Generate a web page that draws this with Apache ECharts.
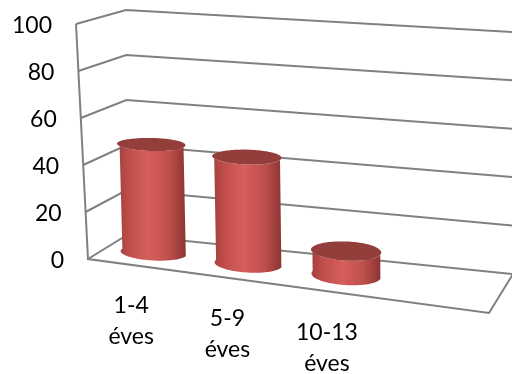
<!DOCTYPE html>
<html>
<head>
<meta charset="UTF-8">
<title>3D cylinders</title>
<script src="https://cdn.jsdelivr.net/npm/echarts@6/dist/echarts.min.js"></script>
<style>
  html, body { margin: 0; padding: 0; background: #fff; }
  #main { width: 512px; height: 374px; }
</style>
</head>
<body>
<div id="main"></div>
<script>
// data
var categories = ['1-4 éves', '5-9 éves', '10-13 éves', ''];
var values = [46.5, 45, 10, null];
var yTicks = [0, 20, 40, 60, 80, 100];

// box layout: floor quad corners and full-height vectors (front/back, left/right)
var FLOOR = [[88, 259], [489, 313], [513, 274], [127, 235]];
var HF0 = [-12, -235], HF1 = [2, -255], HB1 = [0, -242], HB0 = [-1, -225];
var PERSP = 0.2; // share of perspective (homography) vs plain bilinear floor

// homography unit square -> floor quad
var H = (function (p) {
  var dx1 = p[1][0] - p[2][0], dx2 = p[3][0] - p[2][0], dx3 = p[0][0] - p[1][0] + p[2][0] - p[3][0];
  var dy1 = p[1][1] - p[2][1], dy2 = p[3][1] - p[2][1], dy3 = p[0][1] - p[1][1] + p[2][1] - p[3][1];
  var den = dx1 * dy2 - dx2 * dy1;
  var g = (dx3 * dy2 - dx2 * dy3) / den;
  var h = (dx1 * dy3 - dx3 * dy1) / den;
  return {
    a: p[1][0] - p[0][0] + g * p[1][0], b: p[3][0] - p[0][0] + h * p[3][0], c: p[0][0],
    d: p[1][1] - p[0][1] + g * p[1][1], e: p[3][1] - p[0][1] + h * p[3][1], f: p[0][1],
    g: g, h: h
  };
})(FLOOR);

function bil(q0, q1, q2, q3, u, w, k) {
  return (1 - w) * ((1 - u) * q0[k] + u * q1[k]) + w * ((1 - u) * q3[k] + u * q2[k]);
}

function proj(u, t, w) {
  var z = H.g * u + H.h * w + 1;
  var xh = (H.a * u + H.b * w + H.c) / z;
  var yh = (H.d * u + H.e * w + H.f) / z;
  var x = PERSP * xh + (1 - PERSP) * bil(FLOOR[0], FLOOR[1], FLOOR[2], FLOOR[3], u, w, 0);
  var y = PERSP * yh + (1 - PERSP) * bil(FLOOR[0], FLOOR[1], FLOOR[2], FLOOR[3], u, w, 1);
  var hx = bil(HF0, HF1, HB1, HB0, u, w, 0);
  var hy = bil(HF0, HF1, HB1, HB0, u, w, 1);
  return [x + t * hx, y + t * hy];
}

var FONT = 'Lato, "Open Sans", sans-serif';
var gridCol = '#808080';

function uOf(px, cs) { return (px - cs.x) / cs.width; }
function tOf(py, cs) { return (cs.y + cs.height - py) / cs.height; }

function renderBox(params, api) {
  var cs = params.coordSys;
  var kids = [];
  yTicks.forEach(function (tk) {
    var t = tOf(api.coord([0, tk])[1], cs);
    kids.push({
      type: 'polyline', shape: { points: [proj(0, t, 0), proj(0, t, 1), proj(1, t, 1)] },
      style: { stroke: gridCol, lineWidth: 2, fill: null }
    });
    var p = proj(0, t, 0);
    kids.push({
      type: 'text', x: p[0] - 24, y: p[1] + 2,
      style: { text: String(tk), fill: '#000', fontSize: 23, fontFamily: FONT, align: 'right', verticalAlign: 'middle' }
    });
  });
  kids.push({
    type: 'polyline', shape: { points: [proj(0, 1, 0), proj(0, 0, 0), proj(1, 0, 0), proj(1, 0, 1)] },
    style: { stroke: gridCol, lineWidth: 2, fill: null }
  });
  categories.forEach(function (c, i) {
    if (!c) return;
    var u = uOf(api.coord([i, 0])[0], cs);
    var p = proj(u, 0, 0);
    kids.push({
      type: 'text', x: p[0] - 4, y: p[1] + 25,
      style: { text: c.replace(' ', '\n'), fill: '#000', fontSize: 23, fontFamily: FONT,
        align: 'center', verticalAlign: 'top', lineHeight: 31 }
    });
  });
  return { type: 'group', children: kids };
}

function renderBar(params, api) {
  var val = api.value(1);
  if (val == null || isNaN(val)) return null;
  var cs = params.coordSys;
  var i = api.value(0);
  var u = uOf(api.coord([i, 0])[0], cs);
  var t = tOf(api.coord([i, val])[1], cs);
  var ru = api.size([1, 0])[0] / cs.width * 0.34;
  var rw = 0.28, wc = 0.5, N = 60;
  var bottom = [], top = [], topAll = [];
  for (var k = 0; k <= N; k++) {
    var th = Math.PI + Math.PI * k / N;
    bottom.push(proj(u + ru * Math.cos(th), 0, wc + rw * Math.sin(th)));
    top.push(proj(u + ru * Math.cos(th), t, wc + rw * Math.sin(th)));
  }
  for (var m = 0; m < N * 2; m++) {
    var a = Math.PI * 2 * m / (N * 2);
    topAll.push(proj(u + ru * Math.cos(a), t, wc + rw * Math.sin(a)));
  }
  var body = bottom.concat(top.slice().reverse());
  return {
    type: 'group',
    children: [{
      type: 'polygon', shape: { points: body },
      style: {
        fill: {
          type: 'linear', x: 0, y: 0, x2: 1, y2: 0,
          colorStops: [
            { offset: 0, color: '#a2403d' },
            { offset: 0.2, color: '#c4504c' },
            { offset: 0.45, color: '#d55f5b' },
            { offset: 0.75, color: '#c0504d' },
            { offset: 1, color: '#8c3532' }
          ]
        }
      }
    }, {
      type: 'polygon', shape: { points: topAll },
      style: { fill: '#943e3b' }
    }]
  };
}

var chart = echarts.init(document.getElementById('main'));
chart.setOption({
  backgroundColor: '#fff',
  animation: false,
  grid: { left: 88, right: 23, top: 24, bottom: 115 },
  xAxis: { type: 'category', data: categories, show: false },
  yAxis: { type: 'value', min: 0, max: 100, interval: 20, show: false },
  series: [{
    type: 'custom', silent: true, clip: false, z: 1,
    renderItem: renderBox, data: [[0, 0]]
  }, {
    type: 'custom', clip: false, z: 2,
    renderItem: renderBar,
    encode: { x: 0, y: 1 },
    data: values.map(function (v, i) { return [i, v]; })
  }]
});
</script>
</body>
</html>
